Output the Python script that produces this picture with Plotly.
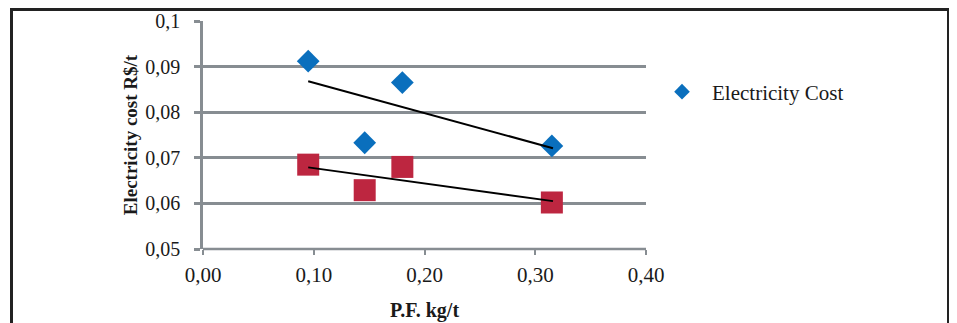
import plotly.graph_objects as go

# ---- data ----
pf = [0.095, 0.146, 0.180, 0.315]
electricity_cost = [0.0912, 0.0733, 0.0865, 0.0726]
second_series = [0.0685, 0.0629, 0.0680, 0.0602]
trend_x = [0.095, 0.316]
trend_blue = [0.0868, 0.0721]
trend_red = [0.0679, 0.0605]
x_ticks = [0.0, 0.1, 0.2, 0.3, 0.4]
x_ticklabels = ["0,00", "0,10", "0,20", "0,30", "0,40"]
y_ticks = [0.05, 0.06, 0.07, 0.08, 0.09, 0.1]
y_ticklabels = ["0,05", "0,06", "0,07", "0,08", "0,09", "0,1"]

# page body has an 8px margin; work in figure coordinates = window coords - 8
OFF = 8
W, H = 957 - OFF, 323 - OFF
L, T = 203 - OFF, 21 - OFF
PR, PB = 646 - OFF, 249 - OFF
R, B = W - PR, H - PB
pw, ph = PR - L, PB - T

def px_x(p):
    return (p - OFF - L) / pw

def px_y(p):
    return (PB - (p - OFF)) / ph

SERIF = "Liberation Serif"
GRID = "#878d92"
TXT = "#1a1a1a"

fig = go.Figure()
fig.add_trace(go.Scatter(x=pf, y=electricity_cost, mode="markers", name="Electricity Cost",
                         marker=dict(symbol="diamond", size=17.5, color="#0a6fbd")))
fig.add_trace(go.Scatter(x=pf, y=second_series, mode="markers", showlegend=False,
                         marker=dict(symbol="square", size=22, color="#bd2640")))
fig.add_trace(go.Scatter(x=trend_x, y=trend_blue, mode="lines",
                         line=dict(color="black", width=2), showlegend=False))
fig.add_trace(go.Scatter(x=trend_x, y=trend_red, mode="lines",
                         line=dict(color="black", width=2), showlegend=False))

fig.update_layout(
    width=W, height=H,
    margin=dict(l=L, r=R, t=T, b=B),
    paper_bgcolor="white", plot_bgcolor="white",
    font=dict(family=SERIF, size=21, color=TXT),
    legend=dict(x=px_x(652), y=px_y(92), xanchor="left", yanchor="middle",
                itemsizing="constant", itemwidth=50,
                font=dict(family=SERIF, size=21, color=TXT),
                bgcolor="rgba(0,0,0,0)"),
    xaxis=dict(range=[0, 0.4], tickvals=x_ticks, ticktext=x_ticklabels,
               showgrid=False, zeroline=False, showline=False,
               ticks="outside", ticklen=5, tickwidth=2, tickcolor=GRID,
               ticklabelstandoff=2, tickfont=dict(family=SERIF, size=21),
               automargin=False,
               title=dict(text="<b>P.F. kg/t</b>", font=dict(family=SERIF, size=20), standoff=16)),
    yaxis=dict(range=[0.05, 0.1], tickvals=y_ticks, ticktext=y_ticklabels,
               showgrid=True, gridcolor=GRID, gridwidth=2.5, zeroline=False,
               showline=True, linecolor=GRID, linewidth=2.5,
               ticks="outside", ticklen=6, tickwidth=2.5, tickcolor=GRID,
               ticklabelstandoff=10, tickfont=dict(family=SERIF, size=20),
               automargin=False,
               title=dict(text="<b>Electricity cost R$/t</b>", font=dict(family=SERIF, size=19), standoff=3)),
    shapes=[
        dict(type="line", xref="paper", yref="paper", x0=0, x1=1, y0=0, y1=0,
             line=dict(color=GRID, width=2.5), layer="below"),
        dict(type="rect", xref="paper", yref="paper",
             x0=px_x(11.5), x1=px_x(948.5), y0=px_y(340), y1=px_y(9.5),
             line=dict(color="#222222", width=3), fillcolor="rgba(0,0,0,0)"),
    ],
)

fig.write_html("out.html")
